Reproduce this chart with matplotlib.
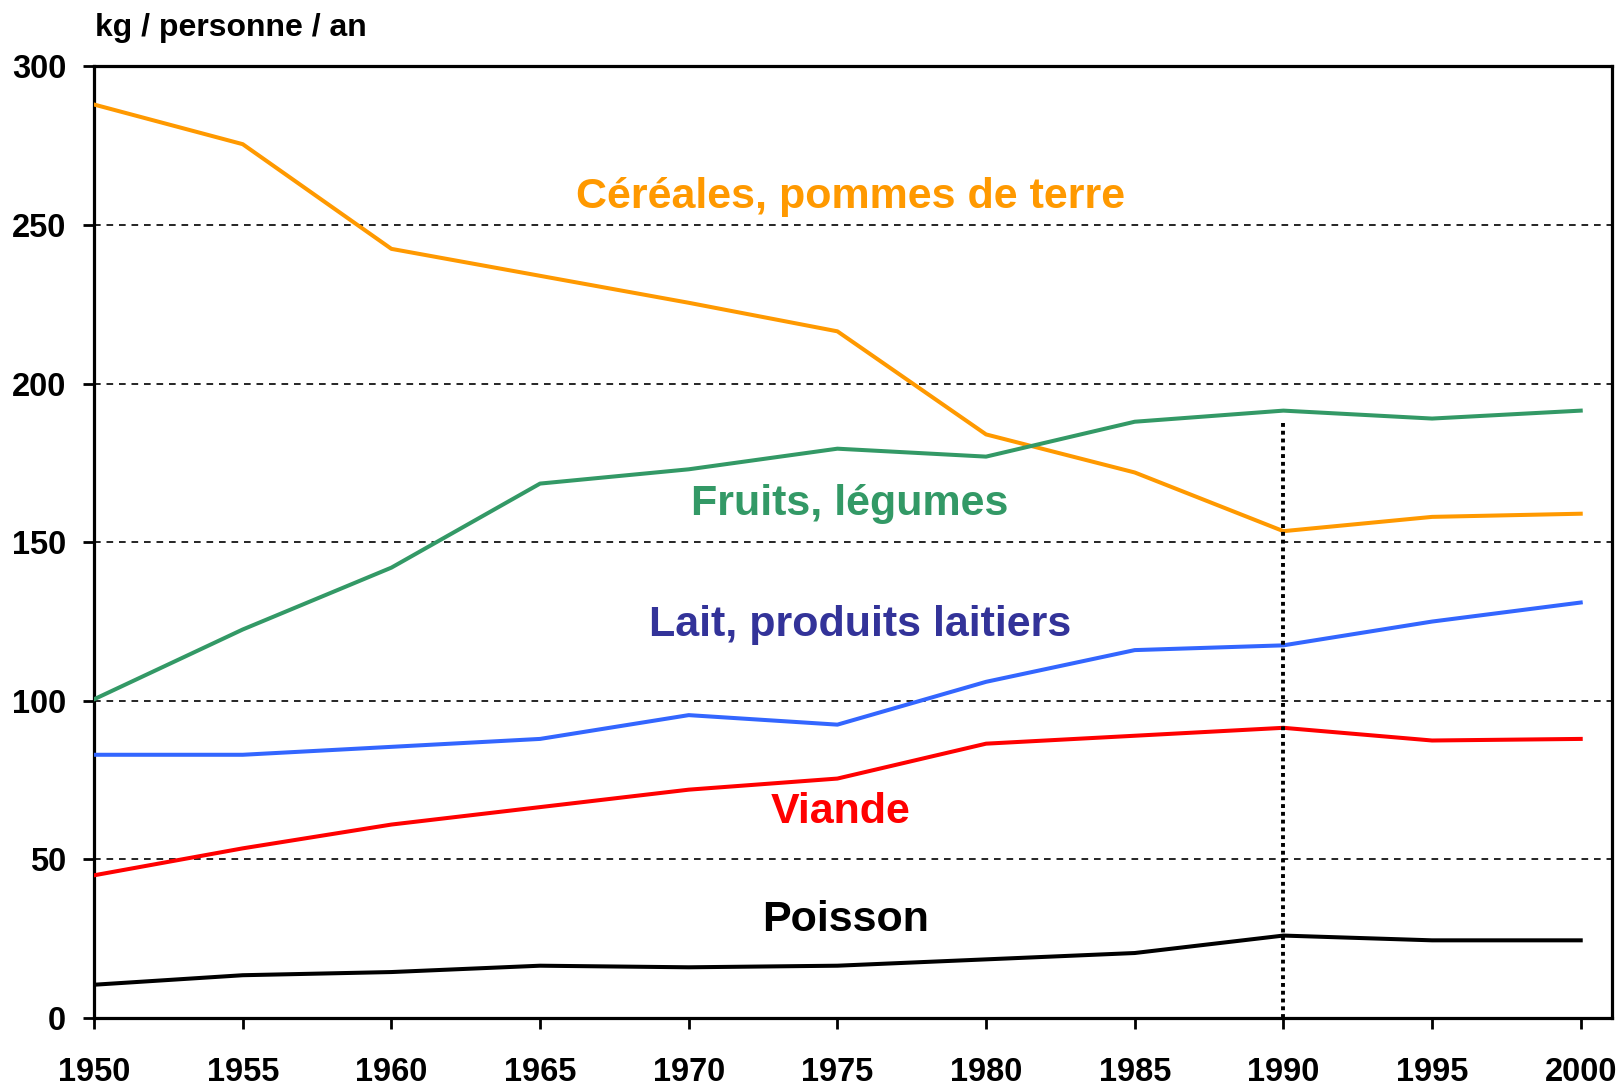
import numpy as np
import matplotlib.pyplot as plt

plt.rcParams['font.family'] = ['Liberation Sans', 'DejaVu Sans']
plt.rcParams['font.weight'] = 'bold'

years = [1950, 1955, 1960, 1965, 1970, 1975, 1980, 1985, 1990, 1995, 2000]
cereales = [288, 275.5, 242.5, 234, 225.5, 216.5, 184, 172, 153.5, 158, 159]
fruits = [100.5, 122.5, 142, 168.5, 173, 179.5, 177, 188, 191.5, 189, 191.5]
lait = [83, 83, 85.5, 88, 95.5, 92.5, 106, 116, 117.5, 125, 131]
viande = [45, 53.5, 61, 66.5, 72, 75.5, 86.5, 89, 91.5, 87.5, 88]
poisson = [10.5, 13.5, 14.5, 16.5, 16, 16.5, 18.5, 20.5, 26, 24.5, 24.5]

# name, values, line colour, text colour, label x, label y
series = [
    ("Céréales, pommes de terre", cereales, "#FF9900", "#FF9900", 1975.45, 258.8),
    ("Fruits, légumes", fruits, "#339966", "#339966", 1975.4, 162),
    ("Lait, produits laitiers", lait, "#3366FF", "#333399", 1975.75, 123.8),
    ("Viande", viande, "#FF0000", "#FF0000", 1975.12, 65),
    ("Poisson", poisson, "#000000", "#000000", 1975.26, 31),
]

vline_year = 1990
vline_top = 188

fig = plt.figure(figsize=(16.22, 10.88), dpi=100)
ax = fig.add_axes([0.058, 0.0643, 0.9358, 0.8746])

for name, vals, col, tcol, lx, ly in series:
    ax.plot(years, vals, color=col, lw=2.9, zorder=3)
    ax.text(lx, ly, name, color=tcol, fontsize=31, fontweight='bold',
            ha='center', va='center', zorder=4)

ax.plot([vline_year, vline_year], [0, vline_top], color='black', lw=2.8,
        linestyle=(0, (1, 1)), zorder=5)

ax.set_xlim(1950, 2001.05)
ax.set_ylim(0, 300)
ax.set_xticks(years)
ax.set_yticks(np.arange(0, 301, 50))
ax.yaxis.grid(True, linestyle=(0, (4, 3.5)), color='black', lw=1.2)
ax.set_axisbelow(True)

for s in ax.spines.values():
    s.set_linewidth(2.3)
ax.tick_params(axis='both', direction='out', length=8, width=2, labelsize=23.5)
ax.tick_params(axis='y', pad=12)
ax.tick_params(axis='x', pad=20)
for lab in ax.get_xticklabels() + ax.get_yticklabels():
    lab.set_fontweight('bold')

fig.text(0.0586, 0.974, "kg / personne / an", fontsize=23, fontweight='bold',
         ha='left', va='center')

fig.savefig("out.png", dpi=100)
